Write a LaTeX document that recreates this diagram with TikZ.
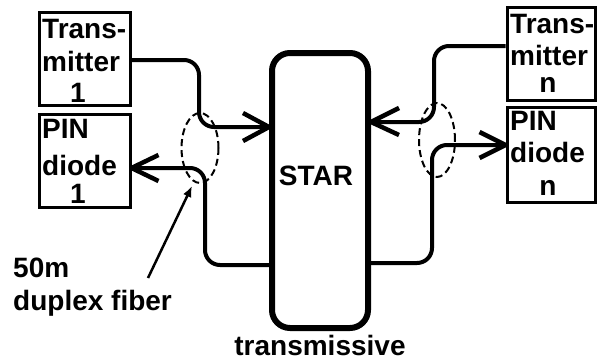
\documentclass[tikz,border=0pt]{standalone}
\usepackage{fontspec}
\setmainfont{Liberation Sans}
\usetikzlibrary{arrows.meta,shapes.geometric}
\tikzset{
  box/.style={draw, line width=3pt, inner sep=0pt, rectangle},
  lbl/.style={inner sep=0pt, font=\fontsize{28}{32}\selectfont\bfseries},
  fiber/.style={line width=4pt, rounded corners=15pt},
  barb/.style={line width=4.5pt, line join=round},
  bundle/.style={draw, ellipse, dash pattern=on 7pt off 4pt, line width=2pt, inner sep=0pt},
}
\begin{document}
\begin{tikzpicture}[x=1pt,y=-1pt]
\useasboundingbox (0,0) rectangle (600,364);
% boxes
\node[box, minimum width=91pt, minimum height=93pt] (tx1) at (84.5,58.5) {};
\node[box, minimum width=91pt, minimum height=93pt] (pin1) at (84.5,160.5) {};
\node[box, minimum width=88pt, minimum height=93pt] (txn) at (551,53.5) {};
\node[box, minimum width=88pt, minimum height=95pt] (pinn) at (551,154.5) {};
\node[draw, line width=6pt, rounded corners=18pt, minimum width=96pt, minimum height=275pt, inner sep=0pt] (star) at (320,190.5) {};
% box texts
\node[lbl, anchor=base west] (t1a) at (42,38) {Trans-};
\node[lbl, anchor=base west] (t1b) at (42,71) {mitter};
\node[lbl, anchor=base] (t1c) at (78,102) {1};
\node[lbl, anchor=base west] (p1a) at (42,138) {PIN};
\node[lbl, anchor=base west] (p1b) at (42,175) {diode};
\node[lbl, anchor=base] (p1c) at (78,203) {1};
\node[lbl, anchor=base west] (tna) at (510,33) {Trans-};
\node[lbl, anchor=base west] (tnb) at (510,65) {mitter};
\node[lbl, anchor=base] (tnc) at (548,92) {n};
\node[lbl, anchor=base west] (pna) at (510,130) {PIN};
\node[lbl, anchor=base west] (pnb) at (510,162) {diode};
\node[lbl, anchor=base] (pnc) at (548,195) {n};
\node[lbl, anchor=base] (startxt) at (316,185) {STAR};
\node[lbl, anchor=base] (trans) at (320,355) {transmissive};
\node[lbl, anchor=base west] (len) at (13,277) {50m};
\node[lbl, anchor=base west] (dup) at (13,310) {duplex fiber};
% arrow tips
\coordinate (a1) at (star.west |- 0,127);
\coordinate (a2) at (pin1.east |- 0,168);
\coordinate (a3) at (star.east |- 0,122);
\coordinate (a4) at (pinn.west |- 0,145);
% fibers
\draw[fiber] (tx1.east |- 0,60) -- (199,60) -- (199,127) -- (a1);
\draw[fiber] (star.west |- 0,265) -- (205,265) -- (205,168) -- (a2);
\draw[fiber] (txn.west |- 0,46) -- (434,46) -- (434,122) -- (a3);
\draw[fiber] (star.east |- 0,263) -- (432,263) -- (432,145) -- (a4);
\draw[barb] ([shift={(-26,-14)}]a1) -- (a1) -- ([shift={(-26,14)}]a1);
\draw[barb] ([shift={(27,-13)}]a2) -- (a2) -- ([shift={(27,13)}]a2);
\draw[barb] ([shift={(28,-14)}]a3) -- (a3) -- ([shift={(28,13)}]a3);
\draw[barb] ([shift={(-26,-13)}]a4) -- (a4) -- ([shift={(-26,13)}]a4);
% bundles
\node[bundle, minimum width=37pt, minimum height=70pt] (e1) at (200,148) {};
\node[bundle, minimum width=36pt, minimum height=74pt] (en) at (437,140) {};
% pointer
\coordinate (ptail) at (148,278);
\coordinate (ptip) at (192,186);
\draw[line width=2.5pt, -{Latex[length=11pt,width=9pt]}] (ptail) -- (ptip);
\end{tikzpicture}
\end{document}
